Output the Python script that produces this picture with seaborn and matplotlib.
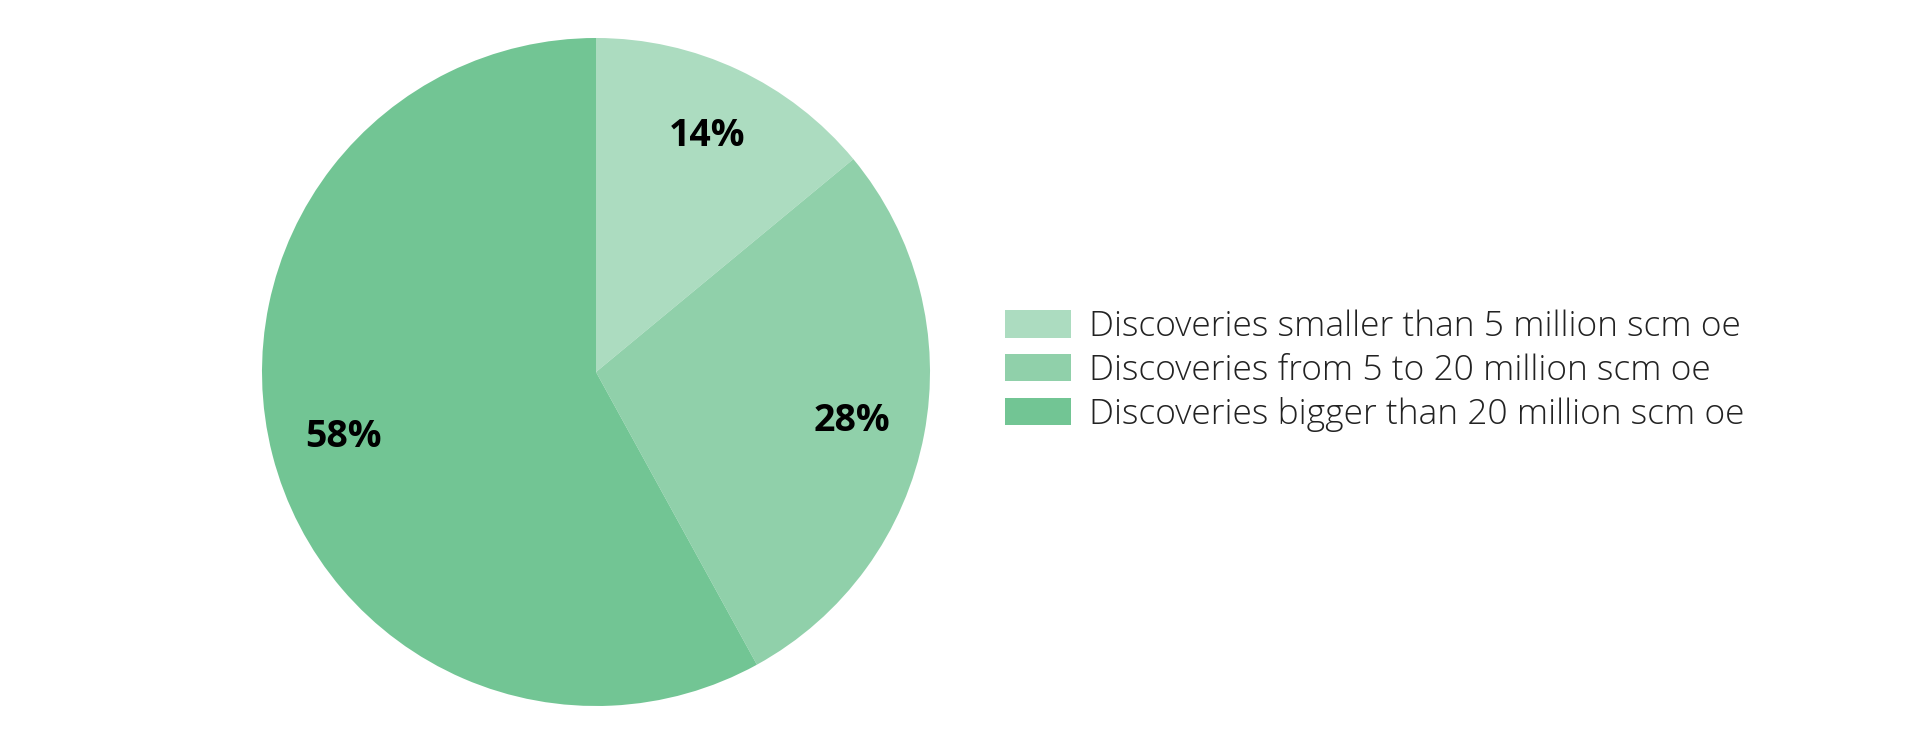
import matplotlib
matplotlib.use("Agg")
import matplotlib.pyplot as plt
import seaborn as sns

categories = [
    "Discoveries smaller than 5 million scm oe",
    "Discoveries from 5 to 20 million scm oe",
    "Discoveries bigger than 20 million scm oe",
]
shares = [14, 28, 58]
colors = ["#acdcc0", "#90d0aa", "#72c594"]

sns.set_theme(style="white")
plt.rcParams["font.family"] = ["Open Sans", "DejaVu Sans"]

fig = plt.figure(figsize=(19.2, 7.42), dpi=100)
W, H = 1920, 742
cx, cy, r = 596, 372, 334
ax = fig.add_axes([(cx - r) / W, (H - cy - r) / H, 2 * r / W, 2 * r / H])
wedges, texts, autotexts = ax.pie(
    shares, colors=colors, startangle=90, counterclock=False, radius=1,
    autopct=lambda p: f"{p:.0f}%", pctdistance=0.78,
    wedgeprops=dict(linewidth=0),
    textprops=dict(fontsize=27, fontweight="bold", color="black"),
)
ax.set_xlim(-1, 1)
ax.set_ylim(-1, 1)
ax.set_axis_off()

leg = fig.legend(
    wedges, categories, loc="center left", bbox_to_anchor=(1005 / W, 0.5),
    frameon=False, fontsize=25.5, handlelength=1.86, handleheight=0.8,
    handletextpad=0.5, labelspacing=0.26, borderaxespad=0, borderpad=0,
)
for t in leg.get_texts():
    t.set_fontweight("light")
    t.set_color("#222222")

fig.savefig("out.png", dpi=100)
